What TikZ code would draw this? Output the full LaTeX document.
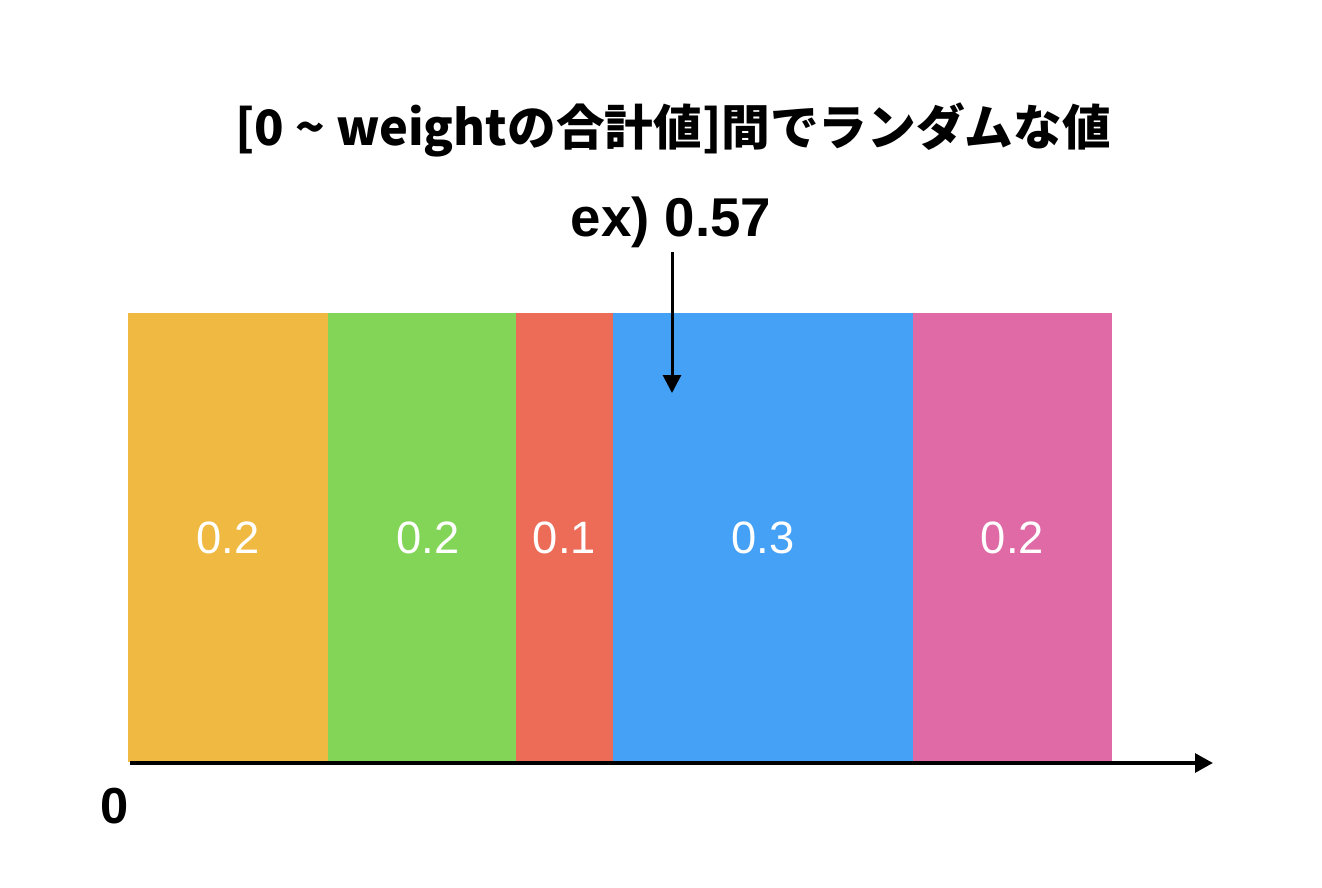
\documentclass[tikz,border=0pt]{standalone}
\usepackage{fontspec}
\setmainfont{Liberation Sans}
\newfontfamily\jpfont{Noto Sans CJK JP}
\usetikzlibrary{positioning}
\usetikzlibrary{arrows.meta}

\definecolor{cyellow}{HTML}{F0BA42}
\definecolor{cgreen}{HTML}{83D558}
\definecolor{cred}{HTML}{ED6C58}
\definecolor{cblue}{HTML}{44A1F6}
\definecolor{cpink}{HTML}{DF6AA5}

\tikzset{
    seg/.style={rectangle, inner sep=0pt, outer sep=0pt, anchor=north west, minimum height=449*0.75pt,
        text=white, font=\fontsize{34}{34}\selectfont},
    axisline/.style={line width=3pt, -{Triangle[length=13.5pt, width=14pt]}},
    pickline/.style={line width=2.25pt, -{Triangle[length=13.5pt, width=13.5pt]}}
}

\begin{document}
\begin{tikzpicture}[x=0.75pt, y=-0.75pt]
    \useasboundingbox (0,0) rectangle (1322,888);
    % weight segments
    \node[seg, fill=cyellow, minimum width=200*0.75pt] (w1) at (128,313) {0.2};
    \node[seg, fill=cgreen, minimum width=188*0.75pt, right=0pt of w1] (w2) {\hspace{9pt}0.2};
    \node[seg, fill=cred, minimum width=97*0.75pt, right=0pt of w2] (w3) {0.1};
    \node[seg, fill=cblue, minimum width=300*0.75pt, right=0pt of w3] (w4) {0.3};
    \node[seg, fill=cpink, minimum width=199*0.75pt, right=0pt of w4] (w5) {0.2};

    % axis
    \coordinate (origin) at (130,763);
    \coordinate (axisend) at (1213,763);
    \draw[axisline] (origin) -- (axisend);
    \node[font=\bfseries\fontsize{38}{38}\selectfont] (zero) at (115,806) {0};

    % title and example value
    \node[font=\jpfont\bfseries\fontsize{36.5}{36.5}\selectfont] (title) at (673,130)
        {[0 \char`\~{} weightの合計値]間でランダムな値};
    \node[font=\bfseries\fontsize{41}{41}\selectfont] (ex) at (671,222) {ex) 0.57};
    \coordinate (picktop) at (672,252);
    \coordinate (pick) at (672,393);
    \draw[pickline] (picktop) -- (pick);
\end{tikzpicture}
\end{document}
